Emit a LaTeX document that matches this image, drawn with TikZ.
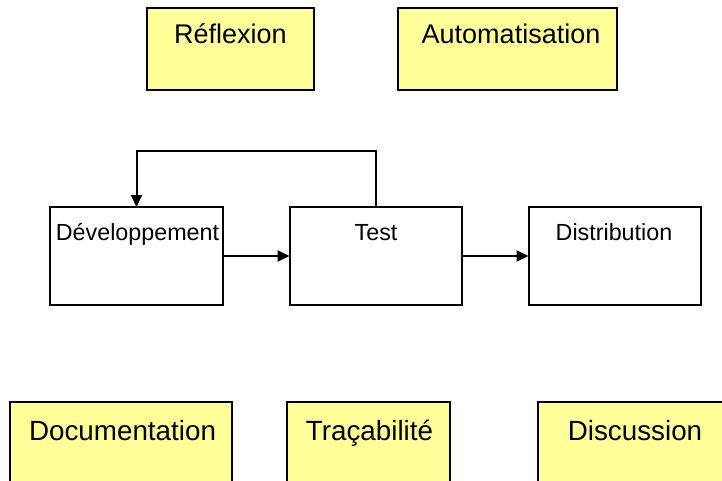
\documentclass[tikz,border=0pt]{standalone}
\usepackage{fontspec}
\setmainfont{Liberation Sans}
\usetikzlibrary{arrows.meta}
\definecolor{lightyel}{RGB}{255,255,153}
\tikzset{
  boxbase/.style={draw=black, line width=2pt, rectangle, inner sep=0pt, outer sep=0pt},
  ybox/.style={boxbase, fill=lightyel},
  wbox/.style={boxbase, fill=white},
  toptext/.style={anchor=base, inner sep=0pt, font=\fontsize{27}{31}\selectfont},
  midtext/.style={anchor=base, inner sep=0pt, font=\fontsize{23.3}{28}\selectfont},
  bottext/.style={anchor=base, inner sep=0pt, font=\fontsize{27.8}{33}\selectfont},
  conn/.style={line width=2pt, -{Triangle[length=12pt,width=11pt]}}
}
\begin{document}
\begin{tikzpicture}[x=1pt,y=-1pt]
\clip (0,0) rectangle (722,481);
\fill[white] (0,0) rectangle (722,481);
% top boxes
\node[ybox, minimum width=167pt, minimum height=81.5pt] (refl) at (230.5,49.25) {};
\node[toptext] (trefl) at (230.5,44) {Réflexion};
\node[ybox, minimum width=218.5pt, minimum height=81.5pt] (auto) at (507.25,49.25) {};
\node[toptext] (tauto) at (511,44) {Automatisation};
% middle boxes
\node[wbox, minimum width=173pt, minimum height=98pt] (dev) at (136.5,256) {};
\node[midtext] (tdev) at (137.5,240) {Développement};
\node[wbox, minimum width=172.5pt, minimum height=98pt] (test) at (375.75,256) {};
\node[midtext] (ttest) at (376,240) {Test};
\node[wbox, minimum width=172.5pt, minimum height=98pt] (dist) at (614.75,256) {};
\node[midtext] (tdist) at (614,240) {Distribution};
% connectors
\coordinate (loopr) at (test.north |- 0,150.7);
\coordinate (loopl) at (dev.north |- 0,150.7);
\draw[conn] (test.north) -- (loopr) -- (loopl) -- (dev.north);
\draw[conn] (dev.east) -- (test.west);
\draw[conn] (test.east) -- (dist.west);
% bottom boxes
\node[ybox, minimum width=221.5pt, minimum height=120pt] (doc) at (120.75,462) {};
\node[bottext] (tdoc) at (122.5,440) {Documentation};
\node[ybox, minimum width=163.5pt, minimum height=120pt] (trac) at (368.25,462) {};
\node[bottext] (ttrac) at (369.5,440) {Traçabilité};
\node[ybox, minimum width=202.5pt, minimum height=120pt] (disc) at (638.75,462) {};
\node[bottext] (tdisc) at (635,440) {Discussion};
\end{tikzpicture}
\end{document}
